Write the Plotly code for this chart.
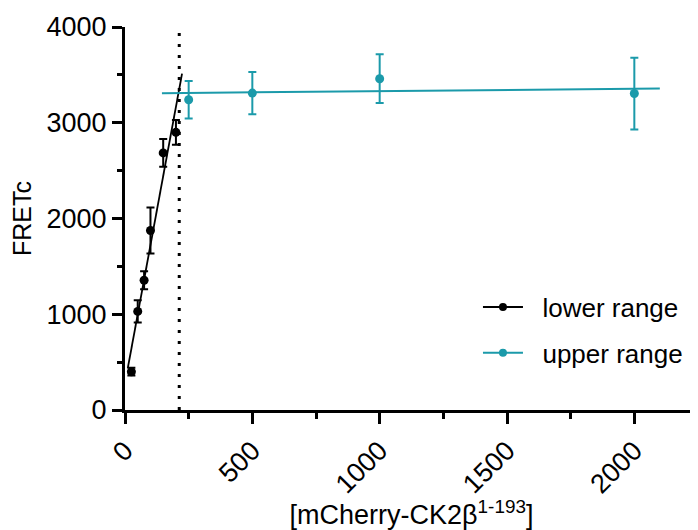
import plotly.graph_objects as go

# ---- data ----
lower_x = [25, 50, 75, 100, 150, 200]
lower_y = [400, 1030, 1355, 1875, 2685, 2900]
lower_err = [40, 115, 95, 240, 145, 130]

upper_x = [250, 500, 1000, 2000]
upper_y = [3240, 3310, 3460, 3305]
upper_err = [195, 220, 255, 375]

fit_lower_x = [11, 224]
fit_lower_y = [437, 3513]
fit_upper_x = [145, 2100]
fit_upper_y = [3309, 3357]

threshold_x = 213

x_ticks = [0, 500, 1000, 1500, 2000]
y_ticks = [0, 1000, 2000, 3000, 4000]

BLACK = "#000000"
TEAL = "#1B9AAA"
FONT = "Arial, Liberation Sans, sans-serif"

fig = go.Figure()

# fitted lines
fig.add_trace(go.Scatter(x=fit_lower_x, y=fit_lower_y, mode="lines",
                         line=dict(color=BLACK, width=1.8), showlegend=False, hoverinfo="skip"))
fig.add_trace(go.Scatter(x=fit_upper_x, y=fit_upper_y, mode="lines",
                         line=dict(color=TEAL, width=2), showlegend=False, hoverinfo="skip"))

# data points with error bars
fig.add_trace(go.Scatter(x=lower_x, y=lower_y, mode="markers",
                         marker=dict(color=BLACK, size=9),
                         error_y=dict(type="data", array=lower_err, color=BLACK, thickness=2, width=4),
                         showlegend=False))
fig.add_trace(go.Scatter(x=upper_x, y=upper_y, mode="markers",
                         marker=dict(color=TEAL, size=9),
                         error_y=dict(type="data", array=upper_err, color=TEAL, thickness=2, width=4),
                         showlegend=False))

# legend entries
fig.add_trace(go.Scatter(x=[None], y=[None], mode="lines+markers", name="\u00a0\u00a0lower range",
                         legendgroup="a",
                         line=dict(color=BLACK, width=2), marker=dict(color=BLACK, size=8)))
fig.add_trace(go.Scatter(x=[None], y=[None], mode="lines+markers", name="\u00a0\u00a0upper range",
                         legendgroup="b",
                         line=dict(color=TEAL, width=2), marker=dict(color=TEAL, size=8)))

# dotted vertical threshold
fig.add_shape(type="line", xref="x", yref="y", x0=threshold_x, x1=threshold_x, y0=0, y1=4000,
              line=dict(color=BLACK, width=3, dash="3px,8px"))

fig.update_layout(
    width=690, height=522,
    margin=dict(l=117, r=0, t=19, b=120),
    plot_bgcolor="white", paper_bgcolor="white",
    font=dict(family=FONT, size=27, color=BLACK),
    showlegend=True,
    legend=dict(x=0.616, y=0.33, xanchor="left", yanchor="top",
                bgcolor="rgba(0,0,0,0)", font=dict(size=26),
                tracegroupgap=9, itemwidth=40),
    xaxis=dict(range=[0, 2250], tickvals=x_ticks, ticktext=[str(v) for v in x_ticks],
               tickangle=-45, showgrid=False, zeroline=False, automargin=False,
               showline=True, linewidth=3, linecolor=BLACK,
               ticks="outside", ticklen=11, tickwidth=3, tickcolor=BLACK,
               minor=dict(dtick=250, tick0=0, ticks="outside", ticklen=6, tickwidth=3, tickcolor=BLACK),
               tickfont=dict(size=27),
               title=dict(text="[mCherry-CK2β<sup>1-193</sup>]", font=dict(size=27), standoff=6)),
    yaxis=dict(range=[0, 4000], tickvals=y_ticks, ticktext=[str(v) for v in y_ticks],
               showgrid=False, zeroline=False, automargin=False,
               showline=True, linewidth=3, linecolor=BLACK,
               ticks="outside", ticklen=10, tickwidth=3, tickcolor=BLACK,
               minor=dict(dtick=500, tick0=0, ticks="outside", ticklen=5, tickwidth=3, tickcolor=BLACK),
               tickfont=dict(size=27),
               title=dict(text="FRETc", font=dict(size=25), standoff=8)),
)

fig.write_html("out.html")
